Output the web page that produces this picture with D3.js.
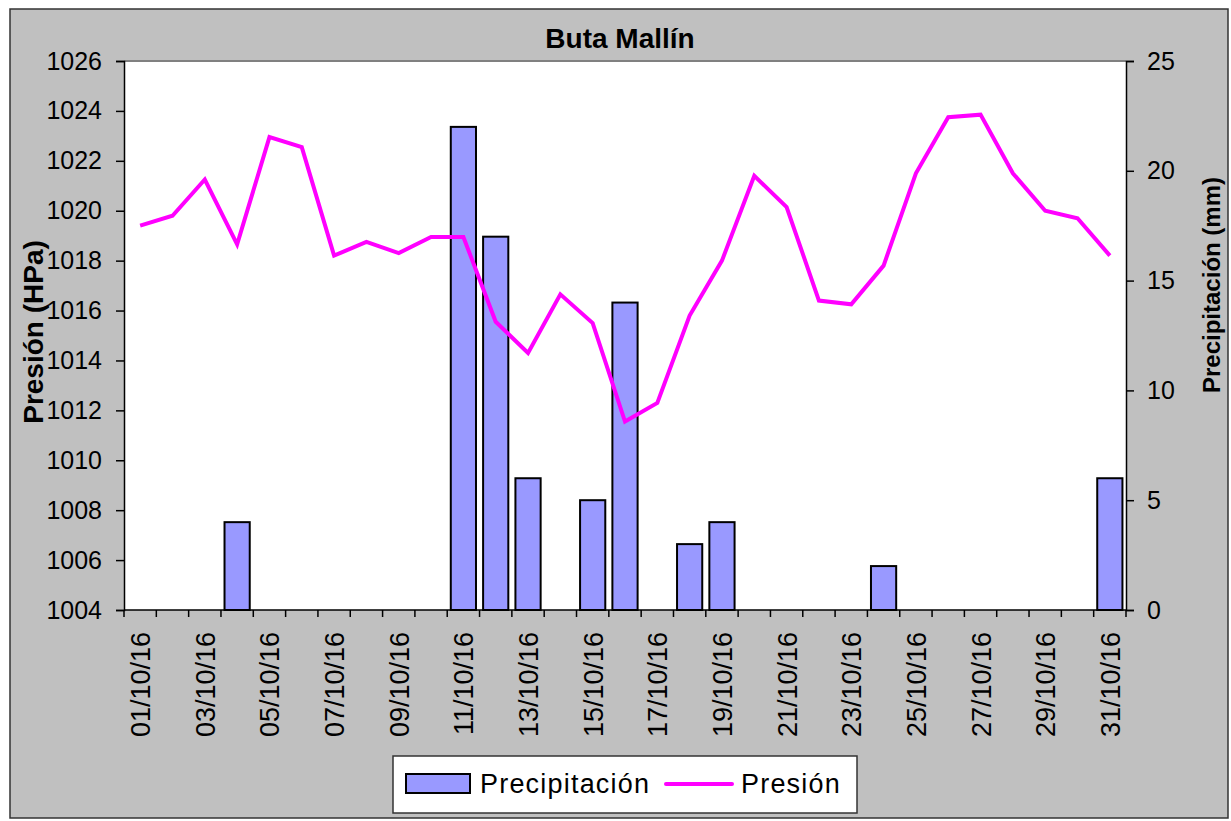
<!DOCTYPE html>
<html>
<head>
<meta charset="utf-8">
<script src="https://cdn.jsdelivr.net/npm/d3@7"></script>
<style>
  body { margin: 0; background: #fff; }
  svg { display: block; font-family: "Liberation Sans", Arial, sans-serif; }
</style>
</head>
<body>
<svg width="1231" height="821"></svg>
<script>
const width = 1231;
const height = 821;
const margin = ({ top: 61, right: 105, bottom: 211, left: 124 });

const days = d3.range(1, 32).map(d => String(d).padStart(2, "0") + "/10/16");
const presion = [1019.4, 1019.8, 1021.25, 1018.65, 1022.95, 1022.55, 1018.2, 1018.75, 1018.3, 1018.95,
  1018.95, 1015.55, 1014.3, 1016.65, 1015.5, 1011.55, 1012.3, 1015.8, 1018.0, 1021.4,
  1020.15, 1016.4, 1016.25, 1017.8, 1021.5, 1023.75, 1023.85, 1021.5, 1020.0, 1019.7, 1018.2];
const precip = [0, 0, 0, 4, 0, 0, 0, 0, 0, 0,
  22, 17, 6, 0, 5, 14, 0, 3, 4, 0,
  0, 0, 0, 2, 0, 0, 0, 0, 0, 0, 6];
const leftTicks = d3.range(1004, 1027, 2);
const rightTicks = [0, 5, 10, 15, 20, 25];

const svg = d3.select("svg");

// chart background
svg.append("rect")
  .attr("x", 10).attr("y", 9)
  .attr("width", 1218).attr("height", 809)
  .attr("fill", "#c0c0c0")
  .attr("stroke", "#333").attr("stroke-width", 1.5);

const x = d3.scaleBand()
  .domain(days)
  .range([margin.left, width - margin.right])
  .paddingInner(0.22).paddingOuter(0.11);

const yL = d3.scaleLinear().domain([1004, 1026]).range([height - margin.bottom, margin.top]);
const yR = d3.scaleLinear().domain([0, 25]).range([height - margin.bottom, margin.top]);

// plot area
svg.append("rect")
  .attr("x", margin.left).attr("y", margin.top)
  .attr("width", width - margin.right - margin.left)
  .attr("height", height - margin.bottom - margin.top)
  .attr("fill", "#fff");
svg.append("line")
  .attr("x1", margin.left).attr("x2", width - margin.right)
  .attr("y1", margin.top).attr("y2", margin.top)
  .attr("stroke", "#808080").attr("stroke-width", 2);

// bars
svg.append("g")
  .selectAll("rect")
  .data(precip.map((v, i) => ({ day: days[i], v })).filter(d => d.v > 0))
  .join("rect")
  .attr("x", d => x(d.day))
  .attr("y", d => yR(d.v))
  .attr("width", x.bandwidth())
  .attr("height", d => yR(0) - yR(d.v))
  .attr("fill", "#9999ff")
  .attr("stroke", "#000")
  .attr("stroke-width", 2);

// pressure line
const line = d3.line()
  .x((d, i) => x(days[i]) + x.bandwidth() / 2)
  .y(d => yL(d));
svg.append("path")
  .datum(presion)
  .attr("fill", "none")
  .attr("stroke", "#ff00ff")
  .attr("stroke-width", 4)
  .attr("stroke-linejoin", "miter")
  .attr("d", line);

// axes
const step = x.step();
const boundaries = d3.range(0, 32).map(i => margin.left + i * step);

const xg = svg.append("g").attr("transform", `translate(0,${height - margin.bottom})`);
xg.append("line")
  .attr("x1", margin.left).attr("x2", width - margin.right)
  .attr("stroke", "#000").attr("stroke-width", 1.5);
xg.selectAll(".tk").data(boundaries).join("line")
  .attr("x1", d => d).attr("x2", d => d)
  .attr("y1", 0).attr("y2", 7)
  .attr("stroke", "#000").attr("stroke-width", 1.5);
xg.selectAll("text").data(days.filter((d, i) => i % 2 === 0)).join("text")
  .attr("transform", d => `translate(${x(d) + x.bandwidth() / 2 + 10},22) rotate(-90)`)
  .attr("text-anchor", "end")
  .attr("font-size", 27)
  .text(d => d);

const yAxisL = d3.axisLeft(yL).tickValues(leftTicks).tickFormat(d3.format("d")).tickSize(8).tickPadding(14);
svg.append("g")
  .attr("transform", `translate(${margin.left},0)`)
  .call(yAxisL)
  .call(g => g.select(".domain").attr("stroke-width", 1.5))
  .call(g => g.selectAll(".tick line").attr("stroke-width", 1.5))
  .call(g => g.selectAll("text").attr("font-size", 25).attr("font-family", null).attr("fill", "#000"));

const yAxisR = d3.axisRight(yR).tickValues(rightTicks).tickSize(8).tickPadding(13);
svg.append("g")
  .attr("transform", `translate(${width - margin.right},0)`)
  .call(yAxisR)
  .call(g => g.select(".domain").attr("stroke-width", 1.5))
  .call(g => g.selectAll(".tick line").attr("stroke-width", 1.5))
  .call(g => g.selectAll("text").attr("font-size", 25).attr("font-family", null).attr("fill", "#000"));

// titles
svg.append("text")
  .attr("x", 620).attr("y", 48)
  .attr("text-anchor", "middle")
  .attr("font-size", 28).attr("font-weight", "bold")
  .text("Buta Mallín");

svg.append("text")
  .attr("transform", "translate(43,332) rotate(-90)")
  .attr("text-anchor", "middle")
  .attr("font-size", 28).attr("font-weight", "bold")
  .text("Presión (HPa)");

svg.append("text")
  .attr("transform", "translate(1220,285) rotate(-90)")
  .attr("text-anchor", "middle")
  .attr("font-size", 24).attr("font-weight", "bold")
  .text("Precipitación (mm)");

// legend
const lg = svg.append("g");
lg.append("rect")
  .attr("x", 393).attr("y", 756).attr("width", 464).attr("height", 57)
  .attr("fill", "#fff").attr("stroke", "#333").attr("stroke-width", 1.5);
lg.append("rect")
  .attr("x", 406).attr("y", 774).attr("width", 64).attr("height", 19)
  .attr("fill", "#9999ff").attr("stroke", "#000").attr("stroke-width", 2);
lg.append("text")
  .attr("x", 480).attr("y", 793)
  .attr("font-size", 27).attr("letter-spacing", 1.2)
  .text("Precipitación");
lg.append("line")
  .attr("x1", 666).attr("x2", 732).attr("y1", 784).attr("y2", 784)
  .attr("stroke", "#ff00ff").attr("stroke-width", 4).attr("stroke-linecap", "round");
lg.append("text")
  .attr("x", 741).attr("y", 793)
  .attr("font-size", 27).attr("letter-spacing", 1.2)
  .text("Presión");
</script>
</body>
</html>
